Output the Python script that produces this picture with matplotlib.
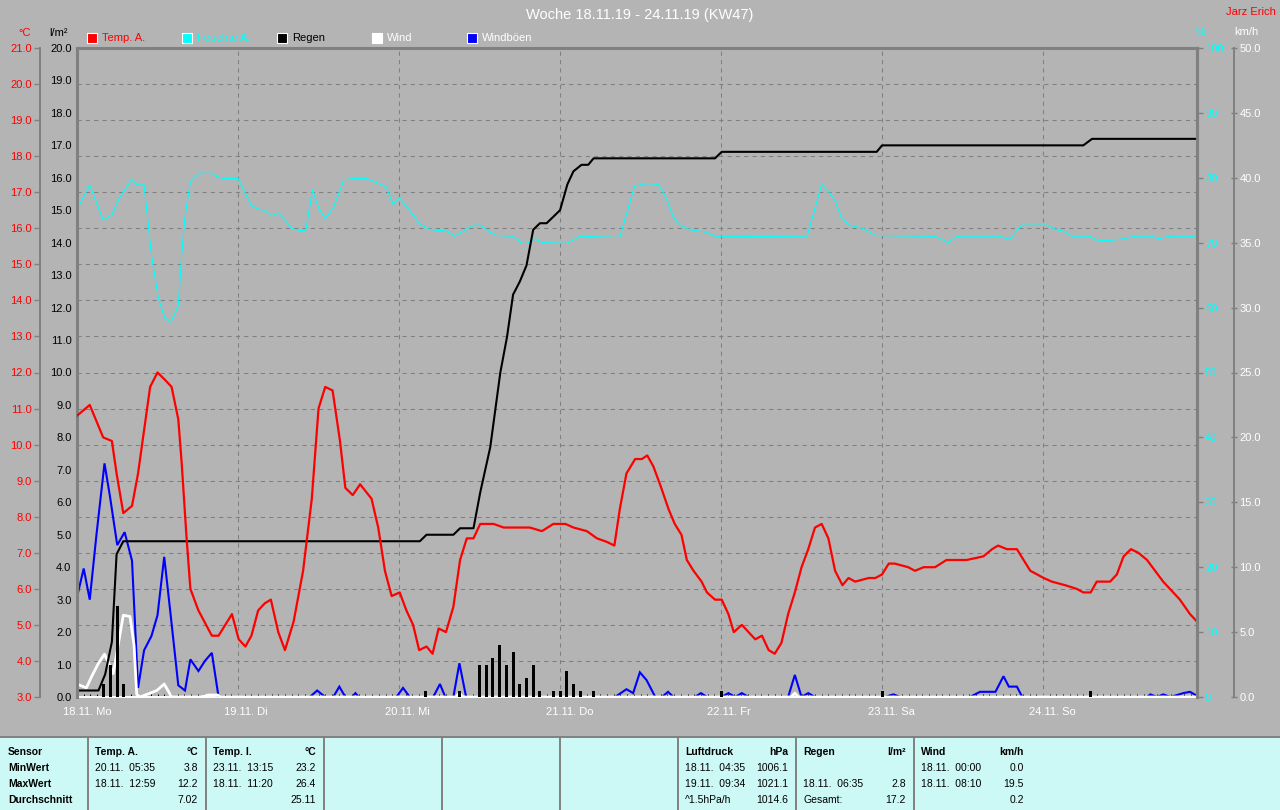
import matplotlib
matplotlib.use("Agg")
import matplotlib.pyplot as plt
from matplotlib.patches import Rectangle
from matplotlib.lines import Line2D

plt.rcParams['font.family'] = ['Liberation Sans', 'DejaVu Sans']

# -------------------------------
# Daten (Stunden ab 18.11. 00:00)
# -------------------------------
day_labels = ["18.11. Mo", "19.11. Di", "20.11. Mi", "21.11. Do",
              "22.11. Fr", "23.11. Sa", "24.11. So"]

temp_h = [0, 1.9, 3.9, 5.2, 5.9, 6.9, 8.2, 9.1, 10.9, 12.0, 13.1, 14.1, 15.1, 15.6,
          16.3, 16.9, 18.1, 20.1, 21.1, 23.1, 24.1, 25.1, 26.0, 27.0, 28.0, 28.9,
          30.0, 31.0, 32.3, 33.7, 35.0, 36.0, 37.0, 38.1, 39.2, 40.0, 41.1, 42.2,
          43.9, 44.9, 45.9, 46.9, 48.1, 49.1, 50.1, 51.0, 52.1, 53.0, 53.9, 55.0,
          56.1, 57.1, 58.1, 59.1, 60.1, 62.1, 63.6, 65.5, 67.5, 69.3, 71.0, 72.8,
          74.0, 76.0, 77.5, 79.0, 80.1, 80.9, 81.9, 83.2, 84.2, 85.0, 85.9, 86.9,
          88.2, 89.1, 90.1, 90.9, 91.9, 93.1, 93.9, 95.1, 96.1, 97.1, 97.9, 99.1,
          100.1, 101.1, 102.1, 103.1, 104.0, 105.0, 106.0, 107.0, 108.0, 109.0,
          110.0, 111.0, 112.0, 113.0, 114.1, 115.0, 116.0, 118.0, 119.0, 120.0,
          121.0, 121.9, 123.9, 124.9, 126.2, 127.9, 129.6, 131.1, 132.6, 135.1,
          136.4, 137.3, 138.6, 140.1, 141.1, 142.1, 144.1, 145.3, 147.3, 149.0,
          150.0, 151.1, 152.0, 154.0, 155.0, 156.0, 157.1, 158.2, 159.5, 160.7,
          161.9, 162.9, 164.4, 165.9, 166.9]
temp_c = [10.8, 11.1, 10.2, 10.1, 9.2, 8.1, 8.3, 9.2, 11.6, 12.0, 11.8, 11.6, 10.7, 9.5,
          7.5, 6.0, 5.4, 4.7, 4.7, 5.3, 4.6, 4.4, 4.7, 5.4, 5.6, 5.7,
          4.8, 4.3, 5.1, 6.5, 8.5, 11.0, 11.6, 11.5, 10.1, 8.8, 8.6, 8.9,
          8.5, 7.7, 6.5, 5.8, 5.9, 5.4, 5.0, 4.3, 4.4, 4.2, 4.9, 4.8,
          5.5, 6.8, 7.4, 7.4, 7.8, 7.8, 7.7, 7.7, 7.7, 7.6, 7.8, 7.8,
          7.7, 7.6, 7.4, 7.3, 7.2, 8.2, 9.2, 9.6, 9.6, 9.7, 9.4, 8.9,
          8.2, 7.8, 7.5, 6.8, 6.5, 6.2, 5.9, 5.7, 5.7, 5.3, 4.8, 5.0,
          4.8, 4.6, 4.7, 4.3, 4.2, 4.5, 5.3, 5.9, 6.6, 7.1,
          7.7, 7.8, 7.4, 6.5, 6.1, 6.3, 6.2, 6.3, 6.3, 6.4,
          6.7, 6.7, 6.6, 6.5, 6.6, 6.6, 6.8, 6.8, 6.8, 6.9,
          7.1, 7.2, 7.1, 7.1, 6.8, 6.5, 6.3, 6.2, 6.1, 6.0,
          5.9, 5.9, 6.2, 6.2, 6.4, 6.9, 7.1, 7.0, 6.8, 6.5,
          6.2, 6.0, 5.7, 5.3, 5.1]

hum_h = [0, 1.9, 3.9, 5.2, 6.2, 6.9, 8.2, 8.9, 10.0, 11.1, 12.1, 13.1, 14.0, 15.1,
         15.6, 16.1, 16.9, 18.2, 20.1, 20.8, 21.8, 24.0, 25.0, 26.0, 27.0, 28.0,
         29.0, 30.0, 31.0, 32.2, 33.2, 34.1, 35.1, 36.0, 37.0, 38.2, 39.8, 41.2,
         43.2, 46.1, 47.1, 48.0, 49.1, 51.1, 52.4, 53.6, 55.1, 56.3, 57.6, 59.1,
         60.1, 61.6, 62.6, 65.0, 66.3, 67.1, 68.1, 69.5, 73.0, 75.0, 80.9, 83.1,
         84.9, 86.7, 87.9, 88.9, 89.9, 91.4, 93.9, 95.1, 108.8, 111.0, 112.0,
         113.0, 114.0, 115.2, 117.2, 119.0, 125.7, 127.9, 129.9, 131.1, 137.6,
         139.0, 140.8, 144.6, 146.0, 147.0, 148.3, 151.0, 152.0, 153.5, 156.0,
         157.7, 160.2, 161.2, 162.9, 166.9]
hum_pct = [75.1, 78.9, 73.5, 74.3, 76.7, 77.8, 79.8, 78.9, 78.9, 68.1, 61.6, 58.4, 57.8, 60.3,
           68.1, 74.0, 79.4, 80.7, 80.7, 80.2, 79.9, 79.9, 77.8, 75.7, 75.2, 75.0,
           74.1, 74.6, 73.5, 72.1, 71.9, 71.9, 78.1, 75.4, 73.7, 75.4, 79.7, 79.9,
           79.9, 78.6, 75.9, 77.0, 75.6, 72.9, 72.1, 71.9, 71.8, 71.0, 71.8, 72.7,
           72.7, 71.6, 71.1, 71.0, 69.9, 69.9, 70.6, 70.0, 69.9, 71.0, 70.8, 78.7,
           79.1, 79.0, 76.7, 73.9, 72.7, 72.0, 71.6, 71.0, 70.9, 79.0, 77.9,
           76.5, 73.7, 72.7, 72.2, 71.1, 71.0, 71.0, 70.0, 71.0, 71.0,
           70.5, 72.7, 72.7, 72.0, 71.8, 71.0, 71.0, 70.4, 70.3, 70.6,
           71.0, 71.0, 70.6, 71.0, 71.0]

rain_sum_h = [0, 3.2, 4.2, 5.2, 5.9, 6.9, 51.1, 52.1, 56.1, 57.1, 59.1, 60.1, 61.6,
              63.1, 64.1, 65.0, 66.0, 67.0, 68.0, 69.0, 70.0, 72.0, 73.1, 74.0,
              75.2, 76.2, 77.0, 95.1, 96.1, 119.2, 120.0, 150.0, 151.3, 166.9]
rain_sum = [0.2, 0.2, 0.7, 1.7, 4.4, 4.8, 4.8, 5.0, 5.0, 5.2, 5.2, 6.3, 7.7,
            10.0, 11.1, 12.4, 12.8, 13.3, 14.4, 14.6, 14.6, 15.0, 15.8, 16.2,
            16.4, 16.4, 16.6, 16.6, 16.8, 16.8, 17.0, 17.0, 17.2, 17.2]

rain_bar_h = [4, 5, 6, 7, 52, 57, 60, 61, 62, 63, 64, 65, 66, 67, 68, 69,
              71, 72, 73, 74, 75, 77, 96, 120, 151]
rain_bar = [0.4, 1.0, 2.8, 0.4, 0.2, 0.2, 1.0, 1.0, 1.2, 1.6, 1.0, 1.4, 0.4, 0.6, 1.0, 0.2,
            0.2, 0.2, 0.8, 0.4, 0.2, 0.2, 0.2, 0.2, 0.2]

gust_h = [0, 1.0, 1.9, 2.9, 4.1, 4.9, 6.0, 7.1, 8.2, 9.1, 10.0, 11.1, 12.0, 13.0, 13.9,
          15.1, 16.1, 16.9, 18.1, 19.1, 20.1, 21.1, 34.7, 35.8, 37.0, 38.2, 39.1,
          40.0, 41.0, 41.5, 42.0, 47.6, 48.6, 49.6, 53.1, 54.1, 54.9, 56.1, 57.0,
          58.0, 80.2, 81.9, 82.9, 83.9, 84.9, 86.2, 87.2, 88.1, 88.9, 92.1, 93.0,
          93.9, 96.1, 97.1, 98.1, 99.1, 100.1, 106.0, 107.0, 108.0, 109.0, 110.0,
          120.5, 121.7, 122.7, 133.1, 134.6, 136.9, 138.1, 138.9, 140.1, 140.9,
          159.5, 160.0, 161.0, 161.9, 163.0, 164.9, 165.9, 166.9]
gust_kmh = [7.7, 9.9, 7.5, 12.5, 18.0, 15.5, 11.7, 12.7, 10.5, 0.7, 3.6, 4.7, 6.3, 10.8, 6.6,
            0.9, 0.5, 2.9, 2.0, 2.8, 3.4, 0.0, 0.0, 0.5, 0.0, 0.0, 0.8,
            0.0, 0.0, 0.3, 0.0, 0.0, 0.7, 0.0, 0.0, 1.0, 0.0, 0.0, 2.6,
            0.0, 0.0, 0.6, 0.3, 1.9, 1.3, 0.0, 0.0, 0.4, 0.0, 0.0, 0.3,
            0.0, 0.0, 0.3, 0.0, 0.3, 0.0, 0.0, 1.7, 0.0, 0.3, 0.0,
            0.0, 0.2, 0.0, 0.0, 0.4, 0.4, 1.6, 0.8, 0.8, 0.0,
            0.0, 0.2, 0.0, 0.2, 0.0, 0.3, 0.4, 0.1]

wind_h = [0, 1.4, 2.2, 3.2, 4.1, 4.9, 5.4, 6.9, 7.9, 8.5, 8.9, 9.4, 10.9, 11.9, 13.0,
          14.1, 18.5, 19.5, 21.0, 21.3, 56.5, 57.0, 57.5, 106.5, 107.0, 107.5, 166.9]
wind_kmh = [1.0, 0.7, 1.6, 2.6, 3.3, 2.4, 1.8, 6.3, 6.2, 4.0, 0.2, 0.0, 0.3, 0.5, 1.0,
            0.0, 0.0, 0.15, 0.15, 0.0, 0.0, 0.3, 0.0, 0.0, 0.3, 0.0, 0.0]

# Tabelle
row_names = ["Sensor", "MinWert", "MaxWert", "Durchschnitt"]
col_names = ["Temp. A.", "Temp. I.", "", "", "", "Luftdruck", "Regen", "Wind"]
col_units = ["°C", "°C", "", "", "", "hPa", "l/m²", "km/h"]
col_times = [["20.11.  05:35", "18.11.  12:59", ""],
             ["23.11.  13:15", "18.11.  11:20", ""],
             ["", "", ""], ["", "", ""], ["", "", ""],
             ["18.11.  04:35", "19.11.  09:34", "^1.5hPa/h"],
             ["", "18.11.  06:35", "Gesamt:"],
             ["18.11.  00:00", "18.11.  08:10", ""]]
col_values = [["3.8", "12.2", "7.02"],
              ["23.2", "26.4", "25.11"],
              ["", "", ""], ["", "", ""], ["", "", ""],
              ["1006.1", "1021.1", "1014.6"],
              ["", "2.8", "17.2"],
              ["0.0", "19.5", "0.2"]]

legend_labels = ["Temp. A.", "Feuchte A.", "Regen", "Wind", "Windböen"]
legend_box = ["#ff0000", "#00ffff", "#000000", "#ffffff", "#0000ff"]
legend_text = ["#ff0000", "#00ffff", "#000000", "#ffffff", "#ffffff"]

# -------------------------------
# Layout (Pixel)
# -------------------------------
W, H = 1280, 810
BG = "#b4b4b4"
FRAME = "#808080"
TABLE_BG = "#ccf8f5"
X_END = 166.9


def fx(px):
    return px / W


def fy(py):
    return 1 - py / H


left, right, top, bottom = 77, 1196.7, 48, 697
pos = [fx(left), fy(bottom), (right - left) / W, (bottom - top) / H]

fig = plt.figure(figsize=(12.8, 8.1), dpi=100)
fig.patch.set_facecolor(BG)

# Hintergrund + Gitter (Temperaturteilung)
ax = fig.add_axes(pos)
ax.set_facecolor(BG)
ax.set_xlim(0, X_END)
ax.set_ylim(3, 21)
ax.set_yticks(range(3, 22))
ax.set_xticks([24 * i for i in range(7)])
ax.set_xticks(range(0, 167), minor=True)
ax.grid(True, which="major", color=FRAME, linewidth=0.75, linestyle=(0, (4, 4)))
ax.tick_params(axis="x", which="major", labelbottom=False, length=0)
ax.tick_params(axis="x", which="minor", direction="in", length=2, width=0.7, color="black")
for s in ["left", "right", "top"]:
    ax.spines[s].set_visible(False)
ax.spines["bottom"].set_color("white")
ax.spines["bottom"].set_linewidth(1.4)


def strip(a):
    for s in a.spines.values():
        s.set_visible(False)


# Feuchte
ax_h = ax.twinx()
strip(ax_h)
ax_h.set_ylim(0, 100)
ax_h.set_yticks(range(0, 101, 10))
ax_h.plot(hum_h, hum_pct, color="#00ffff", linewidth=0.8)
ax_h.spines["right"].set_visible(True)
ax_h.spines["right"].set_color(FRAME)
ax_h.spines["right"].set_linewidth(2.2)
ax_h.tick_params(axis="y", colors=FRAME, labelcolor="#00ffff", labelsize=8,
                 length=4, width=1, pad=2)

# Wind / Böen
ax_w = ax.twinx()
strip(ax_w)
ax_w.set_ylim(0, 50)
ax_w.set_yticks(range(0, 51, 5))
ax_w.set_yticklabels([f"{v:.1f}" for v in range(0, 51, 5)])
ax_w.plot(gust_h, gust_kmh, color="#0000ff", linewidth=1.5, solid_joinstyle="miter")
ax_w.plot(wind_h, wind_kmh, color="white", linewidth=2.0)
ax_w.spines["right"].set_visible(True)
ax_w.spines["right"].set_position(("axes", (1234 - left) / (right - left)))
ax_w.spines["right"].set_color(FRAME)
ax_w.spines["right"].set_linewidth(1.4)
ax_w.tick_params(axis="y", colors=FRAME, labelcolor="white", labelsize=8,
                 length=4, width=1, pad=2, direction="inout")

# Regen
ax_r = ax.twinx()
strip(ax_r)
ax_r.set_ylim(0, 20)
ax_r.yaxis.tick_left()
ax_r.set_yticks(range(0, 21))
ax_r.set_yticklabels([f"{v:.1f}" for v in range(0, 21)])
ax_r.bar(rain_bar_h, rain_bar, width=0.45, color="black", linewidth=0)
ax_r.plot(rain_sum_h, rain_sum, color="black", linewidth=1.5)
ax_r.spines["left"].set_visible(True)
ax_r.spines["left"].set_color(FRAME)
ax_r.spines["left"].set_linewidth(2.2)
ax_r.tick_params(axis="y", colors=FRAME, labelcolor="black", labelsize=8,
                 length=0, pad=4)

# Temperatur
ax_t = ax.twinx()
strip(ax_t)
ax_t.set_ylim(3, 21)
ax_t.yaxis.tick_left()
ax_t.set_yticks(range(3, 22))
ax_t.set_yticklabels([f"{v:.1f}" for v in range(3, 22)])
ax_t.plot(temp_h, temp_c, color="#ff0000", linewidth=1.6)
ax_t.spines["left"].set_visible(True)
ax_t.spines["left"].set_position(("axes", (40 - left) / (right - left)))
ax_t.spines["left"].set_color(FRAME)
ax_t.spines["left"].set_linewidth(1.4)
ax_t.tick_params(axis="y", colors=FRAME, labelcolor="#ff0000", labelsize=8,
                 length=4, width=1, pad=2)
for s in ["top", "right"]:
    ax_t.spines[s].set_visible(True)
    ax_t.spines[s].set_color(FRAME)
    ax_t.spines[s].set_linewidth(2.2)
ax_t.set_xlim(0, X_END)

# twinx() schaltet die Ticks der Basisachse wieder ein -> hier aus
ax.tick_params(axis="y", which="both", left=False, right=False,
               labelleft=False, labelright=False)

# Tageslabels
for i, lab in enumerate(day_labels):
    ax.text(24 * i - 14 / 6.708, -0.0231, lab, transform=ax.get_xaxis_transform(),
            ha="left", va="center", color="white", fontsize=8)

# Titel, Einheiten, Legende
fig.text(0.5, fy(15), "Woche 18.11.19 - 24.11.19 (KW47)", ha="center", va="center",
         color="white", fontsize=10.5)
fig.text(fx(1276), fy(12), "Jarz Erich", ha="right", va="center", color="#ff0000", fontsize=8)
fig.text(fx(25), fy(33), "°C", ha="center", va="center", color="#ff0000", fontsize=8)
fig.text(fx(58), fy(33), "l/m²", ha="center", va="center", color="black", fontsize=8)
fig.text(fx(1201), fy(32), "%", ha="center", va="center", color="#00ffff", fontsize=8)
fig.text(fx(1246), fy(32), "km/h", ha="center", va="center", color="white", fontsize=8)

for i, (lab, bc, tc) in enumerate(zip(legend_labels, legend_box, legend_text)):
    bx = 87 + 95 * i
    fig.add_artist(Rectangle((fx(bx), fy(43)), 10 / W, 10 / H, transform=fig.transFigure,
                             facecolor=bc, edgecolor="white", linewidth=0.8))
    fig.text(fx(bx + 15), fy(38), lab, ha="left", va="center", color=tc, fontsize=8)

# -------------------------------
# Tabelle unten
# -------------------------------
fig.add_artist(Rectangle((0, 0), 1, fy(737), transform=fig.transFigure,
                         facecolor=TABLE_BG, edgecolor="none"))
fig.add_artist(Line2D([0, 1], [fy(737), fy(737)], transform=fig.transFigure,
                      color=FRAME, linewidth=1.4))
row_y = [752, 768, 784, 800]
for name, ry in zip(row_names, row_y):
    fig.text(fx(8), fy(ry), name, ha="left", va="center", fontsize=7.5,
             fontweight="bold", color="black")

for i in range(len(col_names)):
    cl = 88 + 118 * i
    fig.add_artist(Line2D([fx(cl), fx(cl)], [0, fy(737)], transform=fig.transFigure,
                          color=FRAME, linewidth=1.4))
    fig.text(fx(cl + 7), fy(row_y[0]), col_names[i], ha="left", va="center",
             fontsize=7.5, fontweight="bold", color="black")
    fig.text(fx(cl + 110), fy(row_y[0]), col_units[i], ha="right", va="center",
             fontsize=7.5, fontweight="bold", color="black")
    for j in range(3):
        fig.text(fx(cl + 7), fy(row_y[j + 1]), col_times[i][j], ha="left", va="center",
                 fontsize=7.5, color="black")
        fig.text(fx(cl + 110), fy(row_y[j + 1]), col_values[i][j], ha="right", va="center",
                 fontsize=7.5, color="black")

fig.savefig("out.png", dpi=100, facecolor=BG)
